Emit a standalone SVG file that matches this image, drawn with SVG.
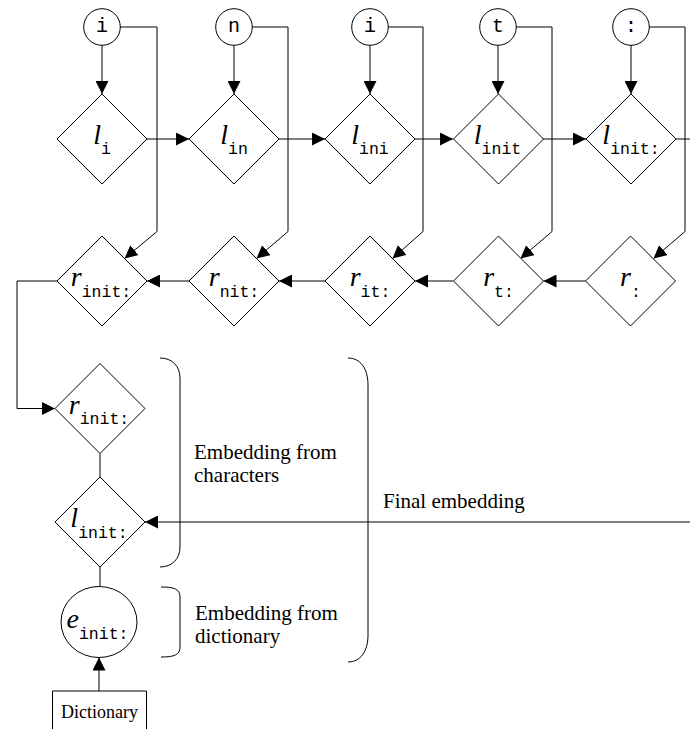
<svg xmlns="http://www.w3.org/2000/svg" width="690" height="729" viewBox="0 0 690 729">
<defs>
<marker id="ah" markerUnits="userSpaceOnUse" markerWidth="13" markerHeight="13" refX="12" refY="6" orient="auto" viewBox="0 0 12 12">
<path d="M0,0 L12,6 L0,12 z" fill="#000"/>
</marker>
<style>
.shape{fill:#fff;stroke:#000;stroke-width:1}
.conn{fill:none;stroke:#000;stroke-width:1}
.arr{marker-end:url(#ah)}
.ch{font-family:"Liberation Mono",monospace;font-size:20px;text-anchor:middle}
.lab{font-family:"Liberation Serif",serif;font-size:28px;font-style:italic;text-anchor:middle}
.sub{font-family:"Liberation Mono",monospace;font-size:16.5px;font-style:normal}
.txt{font-family:"Liberation Serif",serif;font-size:21px}
.dict{font-family:"Liberation Serif",serif;font-size:18px;text-anchor:middle}
</style>
</defs>
<rect width="690" height="729" fill="#fff"/>
<g id="connectors">
<path class="conn arr" d="M102,45 L102,94"/>
<path class="conn arr" d="M234,45 L234,94"/>
<path class="conn arr" d="M370,45 L370,94"/>
<path class="conn arr" d="M498,45 L498,94"/>
<path class="conn arr" d="M631,45 L631,94"/>
<path class="conn arr" d="M120,27 L157,27 L157,231.5 L124.5,258.5"/>
<path class="conn arr" d="M252,27 L288,27 L288,231.5 L256.5,258.5"/>
<path class="conn arr" d="M388,27 L423,27 L423,231.5 L392.5,258.5"/>
<path class="conn arr" d="M516,27 L552,27 L552,231.5 L520.5,258.5"/>
<path class="conn arr" d="M649,27 L685,27 L685,231.5 L653.5,258.5"/>
<path class="conn arr" d="M147,139 L189,139"/>
<path class="conn arr" d="M279,139 L325,139"/>
<path class="conn arr" d="M415,139 L453,139"/>
<path class="conn arr" d="M543,139 L586,139"/>
<path class="conn" d="M676,139 L690,139"/>
<path class="conn arr" d="M585.5,281 L543.5,281"/>
<path class="conn arr" d="M453,281 L415,281"/>
<path class="conn arr" d="M325,281 L279,281"/>
<path class="conn arr" d="M189,281 L147,281"/>
<path class="conn arr" d="M57,281 L17,281 L17,408.5 L55,408.5"/>
<path class="conn" d="M100,453.5 L100,477"/>
<path class="conn" d="M100,567 L100,586"/>
<path class="conn arr" d="M99,691 L99,657.5"/>
<path class="conn arr" d="M690,522 L145,522"/>
<path class="conn" d="M160,358 C172,358 180,366 180,378 L180,547 C180,559 172,567 160,567"/>
<path class="conn" d="M161,587 C174,587 180,589 180,597 L180,647 C180,655 174,657 161,657"/>
<path class="conn" d="M348,358 C360,358 368,368 368,385 L368,635 C368,652 360,662 348,662"/>
</g>
<g id="c1"><circle class="shape" cx="102" cy="27" r="18.3"/><text class="ch" x="102" y="32">i</text></g>
<g id="c2"><circle class="shape" cx="234" cy="27" r="18.3"/><text class="ch" x="234" y="32">n</text></g>
<g id="c3"><circle class="shape" cx="370" cy="27" r="18.3"/><text class="ch" x="370" y="32">i</text></g>
<g id="c4"><circle class="shape" cx="498" cy="27" r="18.3"/><text class="ch" x="498" y="32">t</text></g>
<g id="c5"><circle class="shape" cx="631" cy="27" r="18.3"/><text class="ch" x="631" y="32">:</text></g>
<g id="l1"><path class="shape" d="M102,94 L147,139 L102,184 L57,139 z"/><text class="lab" x="102" y="144">l<tspan class="sub" dy="10">i</tspan></text></g>
<g id="l2"><path class="shape" d="M234,94 L279,139 L234,184 L189,139 z"/><text class="lab" x="234" y="144">l<tspan class="sub" dy="10">in</tspan></text></g>
<g id="l3"><path class="shape" d="M370,94 L415,139 L370,184 L325,139 z"/><text class="lab" x="370" y="144">l<tspan class="sub" dy="10">ini</tspan></text></g>
<g id="l4"><path class="shape" d="M498.5,94 L543.5,139 L498.5,184 L453.5,139 z"/><text class="lab" x="497.5" y="144">l<tspan class="sub" dy="10">init</tspan></text></g>
<g id="l5"><path class="shape" d="M631,94 L676,139 L631,184 L586,139 z"/><text class="lab" x="631" y="144">l<tspan class="sub" dy="10">init:</tspan></text></g>
<g id="r1"><path class="shape" d="M102,236 L147,281 L102,326 L57,281 z"/><text class="lab" x="101" y="286">r<tspan class="sub" dy="10.5">init:</tspan></text></g>
<g id="r2"><path class="shape" d="M234,236 L279,281 L234,326 L189,281 z"/><text class="lab" x="234" y="286">r<tspan class="sub" dy="10.5">nit:</tspan></text></g>
<g id="r3"><path class="shape" d="M370,236 L415,281 L370,326 L325,281 z"/><text class="lab" x="370" y="286">r<tspan class="sub" dy="10.5">it:</tspan></text></g>
<g id="r4"><path class="shape" d="M498.5,236 L543.5,281 L498.5,326 L453.5,281 z"/><text class="lab" x="498.5" y="286">r<tspan class="sub" dy="10.5">t:</tspan></text></g>
<g id="r5"><path class="shape" d="M630.5,236 L675.5,281 L630.5,326 L585.5,281 z"/><text class="lab" x="630.5" y="286">r<tspan class="sub" dy="10.5">:</tspan></text></g>
<g id="r6"><path class="shape" d="M100,363.5 L145,408.5 L100,453.5 L55,408.5 z"/><text class="lab" x="99" y="413.5">r<tspan class="sub" dy="10.5">init:</tspan></text></g>
<g id="l6"><path class="shape" d="M100,477 L145,522 L100,567 L55,522 z"/><text class="lab" x="99" y="527">l<tspan class="sub" dy="10.5">init:</tspan></text></g>
<g id="e"><ellipse class="shape" cx="99" cy="622" rx="38" ry="35.5"/><text class="lab" x="97.5" y="627.5">e<tspan class="sub" dy="11">init:</tspan></text></g>
<g id="dictionary"><path class="conn" d="M52.5,735 L52.5,691 L146.5,691 L146.5,735"/><text class="dict" x="99.5" y="718">Dictionary</text></g>
<g id="labels">
<text class="txt" x="194" y="459">Embedding from</text>
<text class="txt" x="194" y="482">characters</text>
<text class="txt" x="383" y="508">Final embedding</text>
<text class="txt" x="195" y="620">Embedding from</text>
<text class="txt" x="195" y="643">dictionary</text>
</g>
</svg>
